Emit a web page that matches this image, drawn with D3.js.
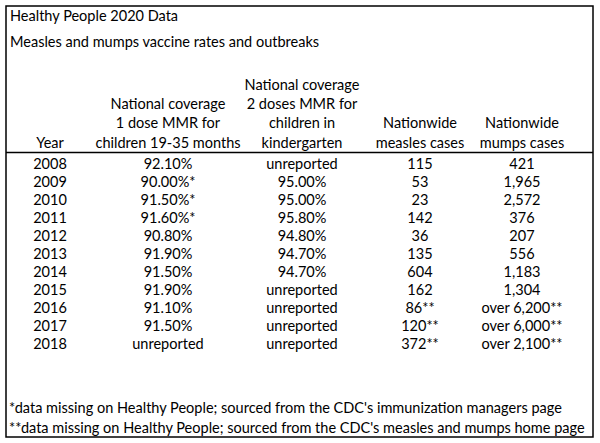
<!DOCTYPE html>
<html><head><meta charset="utf-8">
<script src="https://cdn.jsdelivr.net/npm/d3@7"></script>
<style>html,body{margin:0;padding:0;background:#fff;} svg{display:block;} text{font-family:Lato,"Open Sans",sans-serif;fill:#000;}</style>
</head><body>
<script>
const titleLines = ["Healthy People 2020 Data", "Measles and mumps vaccine rates and outbreaks"];
const headers = [
  ["Year"],
  ["National coverage", "1 dose MMR for", "children 19-35 months"],
  ["National coverage", "2 doses MMR for", "children in", "kindergarten"],
  ["Nationwide", "measles cases"],
  ["Nationwide", "mumps cases"]
];
const years = ["2008","2009","2010","2011","2012","2013","2014","2015","2016","2017","2018"];
const coverage1 = ["92.10%","90.00%*","91.50%*","91.60%*","90.80%","91.90%","91.50%","91.90%","91.10%","91.50%","unreported"];
const coverage2 = ["unreported","95.00%","95.00%","95.80%","94.80%","94.70%","94.70%","unreported","unreported","unreported","unreported"];
const measles = ["115","53","23","142","36","135","604","162","86**","120**","372**"];
const mumps = ["421","1,965","2,572","376","207","556","1,183","1,304","over 6,200**","over 6,000**","over 2,100**"];
const footnotes = ["*data missing on Healthy People; sourced from the CDC's immunization managers page",
                   "**data missing on Healthy People; sourced from the CDC's measles and mumps home page"];

const W = 600, H = 443;
const svg = d3.select("body").append("svg").attr("width", W).attr("height", H);
svg.append("rect").attr("width", W).attr("height", H).attr("fill", "#fff");

// font size chosen so that the longer footnote fits its reference width (~576px)
const probe = svg.append("text").attr("font-size", 14).text(footnotes[1]);
let fs = 14 * 576 / probe.node().getComputedTextLength();
probe.remove();
fs = Math.max(12, Math.min(16, fs));

const cols = [0,1,2,3,4];
const colX = d3.scaleOrdinal().domain(cols).range([50, 168, 302, 420, 522]);
const rowY = d3.scaleBand().domain(years).range([154, 352]).paddingInner(0);
const headY = d3.scaleLinear().domain([0, 3]).range([84, 142]);

// border
svg.append("rect").attr("x", 6).attr("y", 6).attr("width", 587).attr("height", 431)
  .attr("fill", "none").attr("stroke", "#000").attr("stroke-width", 1.5);

// title
svg.selectAll("text.title").data(titleLines).join("text").attr("class","title")
  .attr("x", 10).attr("y", (d,i) => 15 + i*26).attr("font-size", fs).attr("dominant-baseline","central")
  .text(d => d);

// headers (bottom aligned)
headers.forEach((lines, c) => {
  const offset = 4 - lines.length;
  svg.selectAll(null).data(lines).join("text")
    .attr("x", colX(c)).attr("y", (d,i) => headY(i + offset))
    .attr("text-anchor","middle").attr("dominant-baseline","central")
    .attr("font-size", fs).text(d => d);
});

// header rule
svg.append("line").attr("x1", 6).attr("x2", 593).attr("y1", 152.5).attr("y2", 152.5)
  .attr("stroke", "#000").attr("stroke-width", 1.5);

const columns = [years, coverage1, coverage2, measles, mumps];
columns.forEach((vals, c) => {
  svg.selectAll(null).data(vals).join("text")
    .attr("x", colX(c))
    .attr("y", (d,i) => rowY(years[i]) + rowY.bandwidth()/2)
    .attr("text-anchor","middle").attr("dominant-baseline","central")
    .attr("font-size", fs).text(d => d);
});

// footnotes
svg.selectAll("text.foot").data(footnotes).join("text").attr("class","foot")
  .attr("x", 9).attr("y", (d,i) => 407 + i*20).attr("dominant-baseline","central")
  .attr("font-size", fs).text(d => d);
</script>
</body></html>
